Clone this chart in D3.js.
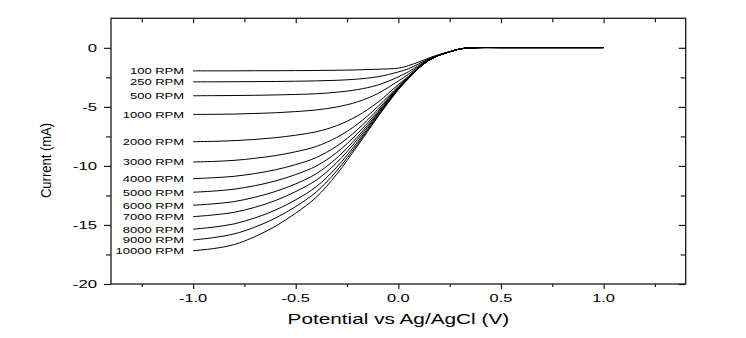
<!DOCTYPE html>
<html><head><meta charset="utf-8">
<script src="https://cdn.jsdelivr.net/npm/d3@7"></script>
<style>
body{margin:0;background:#fff}
svg{display:block;background:#fff}
text{font-family:"Liberation Sans",Arial,sans-serif;fill:#000}
</style>
</head><body>
<svg id="c" width="746" height="338"></svg>
<script>
// ---- data ----
const potentials = [-1.0,-0.9,-0.8,-0.7,-0.6,-0.5,-0.4,-0.3,-0.2,-0.1,0.0,0.05,0.1,0.15,0.2,0.25,0.3,0.35,0.4,0.5,0.6,0.7,0.8,0.9,1.0];
const i100   = [-1.95,-1.95,-1.95,-1.94,-1.94,-1.93,-1.92,-1.90,-1.87,-1.81,-1.72,-1.50,-1.20,-0.85,-0.56,-0.33,-0.09,-0.01,0.02,0.02,0.02,0.02,0.02,0.02,0.02];
const i250   = [-2.88,-2.88,-2.87,-2.86,-2.85,-2.83,-2.80,-2.75,-2.65,-2.45,-2.04,-1.76,-1.35,-0.92,-0.58,-0.33,-0.09,-0.01,0.02,0.02,0.02,0.02,0.02,0.02,0.02];
const i500   = [-4.06,-4.05,-4.04,-4.02,-3.99,-3.95,-3.89,-3.76,-3.54,-3.15,-2.46,-2.02,-1.48,-0.97,-0.60,-0.34,-0.09,-0.01,0.02,0.02,0.02,0.02,0.02,0.02,0.02];
const i1000  = [-5.64,-5.63,-5.61,-5.56,-5.50,-5.40,-5.26,-5.01,-4.58,-3.87,-2.81,-2.23,-1.57,-1.00,-0.61,-0.34,-0.09,-0.01,0.02,0.02,0.02,0.02,0.02,0.02,0.02];
const i2000  = [-7.95,-7.92,-7.86,-7.76,-7.61,-7.40,-7.11,-6.59,-5.77,-4.61,-3.11,-2.40,-1.64,-1.02,-0.61,-0.34,-0.09,-0.01,0.02,0.02,0.02,0.02,0.02,0.02,0.02];
const i3000  = [-9.67,-9.62,-9.53,-9.36,-9.13,-8.80,-8.35,-7.59,-6.47,-4.98,-3.25,-2.46,-1.67,-1.03,-0.61,-0.34,-0.09,-0.01,0.02,0.02,0.02,0.02,0.02,0.02,0.02];
const i4000  = [-11.08,-11.00,-10.88,-10.65,-10.33,-9.89,-9.29,-8.32,-6.94,-5.22,-3.33,-2.50,-1.68,-1.03,-0.61,-0.34,-0.09,-0.01,0.02,0.02,0.02,0.02,0.02,0.02,0.02];
const i5000  = [-12.23,-12.13,-11.97,-11.68,-11.28,-10.73,-10.01,-8.86,-7.28,-5.39,-3.38,-2.53,-1.69,-1.03,-0.62,-0.34,-0.09,-0.01,0.02,0.02,0.02,0.02,0.02,0.02,0.02];
const i6000  = [-13.33,-13.21,-13.02,-12.66,-12.17,-11.52,-10.66,-9.33,-7.56,-5.52,-3.42,-2.55,-1.70,-1.04,-0.62,-0.34,-0.09,-0.01,0.02,0.02,0.02,0.02,0.02,0.02,0.02];
const i7000  = [-14.30,-14.15,-13.93,-13.51,-12.94,-12.17,-11.20,-9.72,-7.78,-5.62,-3.45,-2.56,-1.70,-1.04,-0.62,-0.34,-0.09,-0.01,0.02,0.02,0.02,0.02,0.02,0.02,0.02];
const i8000  = [-15.36,-15.18,-14.91,-14.41,-13.75,-12.87,-11.76,-10.10,-8.00,-5.71,-3.48,-2.58,-1.71,-1.04,-0.62,-0.34,-0.09,-0.01,0.02,0.02,0.02,0.02,0.02,0.02,0.02];
const i9000  = [-16.27,-16.07,-15.76,-15.19,-14.43,-13.44,-12.21,-10.41,-8.17,-5.79,-3.50,-2.59,-1.71,-1.04,-0.62,-0.34,-0.09,-0.01,0.02,0.02,0.02,0.02,0.02,0.02,0.02];
const i10000 = [-17.18,-17.00,-16.66,-16.00,-15.12,-14.00,-12.65,-10.70,-8.33,-5.85,-3.55,-2.60,-1.72,-1.05,-0.62,-0.34,-0.09,-0.01,0.02,0.02,0.02,0.02,0.02,0.02,0.02];
const rpmLabels = ["100 RPM","250 RPM","500 RPM","1000 RPM","2000 RPM","3000 RPM","4000 RPM","5000 RPM","6000 RPM","7000 RPM","8000 RPM","9000 RPM","10000 RPM"];
const xMajor = [-1.0,-0.5,0.0,0.5,1.0];
const xMinor = [-1.25,-0.75,-0.25,0.25,0.75,1.25];
const xTickLabels = ["-1.0","-0.5","0.0","0.5","1.0"];
const yMajor = [-20,-15,-10,-5,0];
const yMinor = [-17.5,-12.5,-7.5,-2.5];
const yTickLabels = ["-20","-15","-10","-5","0"];
const xTitle = "Potential vs Ag/AgCl (V)";
const yTitle = "Current (mA)";

const seriesList = [i100,i250,i500,i1000,i2000,i3000,i4000,i5000,i6000,i7000,i8000,i9000,i10000];

// ---- layout ----
const L = 111, R = 685.7, T = 18.3, B = 284;
const x = d3.scaleLinear().domain([-1.4, 1.4]).range([L, R]);
const y = d3.scaleLinear().domain([-20, 2.5]).range([B, T]);
const svg = d3.select("#c");
const axisColor = "#1a1a1a";

function tickGroup(axisFn, scale, values, size, transform) {
  const g = svg.append("g").attr("transform", transform)
    .call(axisFn(scale).tickValues(values).tickSize(size).tickFormat(""));
  g.select(".domain").remove();
  g.selectAll("line").attr("stroke", axisColor).attr("stroke-width", 1.2);
  return g;
}
// bottom (outward)
tickGroup(d3.axisBottom, x, xMajor, 5, `translate(0,${B})`);
tickGroup(d3.axisBottom, x, xMinor, 3, `translate(0,${B})`);
// top (inward)
tickGroup(d3.axisBottom, x, xMajor, 5, `translate(0,${T})`);
tickGroup(d3.axisBottom, x, xMinor, 4, `translate(0,${T})`);
// left (outward)
tickGroup(d3.axisLeft, y, yMajor, 7, `translate(${L},0)`);
tickGroup(d3.axisLeft, y, yMinor, 5, `translate(${L},0)`);
// right (inward)
tickGroup(d3.axisLeft, y, yMajor, 7, `translate(${R},0)`);
tickGroup(d3.axisLeft, y, yMinor, 5, `translate(${R},0)`);

// frame
svg.append("rect").attr("x", L).attr("y", T).attr("width", R - L).attr("height", B - T)
  .attr("fill", "none").attr("stroke", axisColor).attr("stroke-width", 1.3);

// tick labels
svg.append("g").selectAll("text").data(xMajor).join("text")
  .attr("transform", d => `translate(${x(d)},302) scale(1.49,1)`)
  .attr("text-anchor", "middle").attr("font-size", 11)
  .text((d, i) => xTickLabels[i]);
svg.append("g").selectAll("text").data(yMajor).join("text")
  .attr("transform", d => `translate(97,${y(d)}) scale(1.52,1)`)
  .attr("text-anchor", "end").attr("dy", "0.36em").attr("font-size", 11)
  .text((d, i) => yTickLabels[i]);

// axis titles
svg.append("text").attr("transform", `translate(${(L + R) / 2},323.5) scale(1.385,1)`)
  .attr("text-anchor", "middle").attr("font-size", 15).text(xTitle);
svg.append("text").attr("transform", `translate(50.7,160.5) rotate(-90) scale(0.93,1)`)
  .attr("text-anchor", "middle").attr("font-size", 14).text(yTitle);

// curves
const line = d3.line().x((d, i) => x(potentials[i])).y(d => y(d)).curve(d3.curveCatmullRom.alpha(0.5));
svg.append("g").selectAll("path").data(seriesList).join("path")
  .attr("d", line).attr("fill", "none").attr("stroke", "#000").attr("stroke-width", 1);

// RPM labels
svg.append("g").selectAll("text").data(seriesList).join("text")
  .attr("transform", d => `translate(${x(potentials[0]) - 9},${y(d[0])}) scale(1.37,1)`)
  .attr("text-anchor", "end").attr("dy", "0.36em").attr("font-size", 9.5)
  .text((d, i) => rpmLabels[i]);
</script>
</body></html>
